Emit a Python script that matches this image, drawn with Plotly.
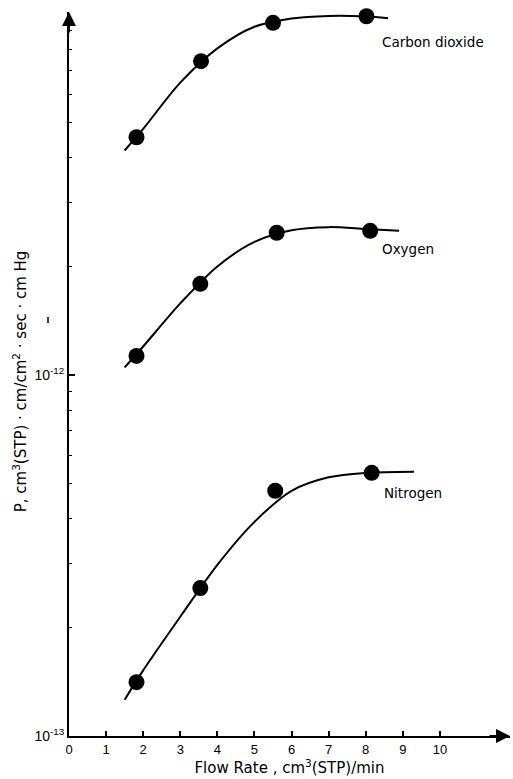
import numpy as np
import plotly.graph_objects as go

# Measured permeabilities P, cm3(STP)·cm/cm2·sec·cm Hg, against flow rate
flow_co2 = [1.82, 3.56, 5.50, 8.02]
perm_co2 = [4.56e-12, 7.41e-12, 9.46e-12, 9.87e-12]
flow_o2 = [1.82, 3.54, 5.60, 8.12]
perm_o2 = [1.13e-12, 1.79e-12, 2.48e-12, 2.51e-12]
flow_n2 = [1.82, 3.54, 5.56, 8.16]
perm_n2 = [1.41e-13, 2.57e-13, 4.78e-13, 5.36e-13]

# Smooth curves drawn through each gas's data
curve_co2_x = [1.5, 2, 3, 4, 5, 6, 7, 8, 8.6]
curve_co2_y = [4.19e-12, 4.81e-12, 6.46e-12, 8.04e-12, 9.23e-12, 9.73e-12, 9.89e-12, 9.86e-12, 9.75e-12]
curve_o2_x = [1.5, 2, 3, 4, 5, 6, 7, 8, 8.9]
curve_o2_y = [1.05e-12, 1.20e-12, 1.58e-12, 2.00e-12, 2.34e-12, 2.52e-12, 2.57e-12, 2.54e-12, 2.51e-12]
curve_n2_x = [1.5, 2, 3, 4, 5, 6, 7, 8, 9.3]
curve_n2_y = [1.26e-13, 1.52e-13, 2.14e-13, 2.98e-13, 3.92e-13, 4.78e-13, 5.21e-13, 5.36e-13, 5.40e-13]

x_ticks = list(range(0, 11))
y_major = [1e-13, 1e-12]
y_major_text = ["10<sup>-13</sup>", "10<sup>-12</sup>"]
y_minor = [m * d for d in (1e-13, 1e-12) for m in range(2, 10)]

labels = [("Carbon dioxide", 8.38, 8.35e-12),
          ("Oxygen", 8.38, 2.23e-12),
          ("Nitrogen", 8.44, 4.71e-13)]

FONT = "Liberation Sans"
TITLE_FONT = "DejaVu Sans"
fig = go.Figure()

for cx, cy in [(curve_co2_x, curve_co2_y), (curve_o2_x, curve_o2_y), (curve_n2_x, curve_n2_y)]:
    fig.add_trace(go.Scatter(x=cx, y=cy, mode="lines",
                             line=dict(color="black", width=2, shape="spline", smoothing=0.9),
                             hoverinfo="skip", showlegend=False))

for fx, py in [(flow_co2, perm_co2), (flow_o2, perm_o2), (flow_n2, perm_n2)]:
    fig.add_trace(go.Scatter(x=fx, y=py, mode="markers", marker=dict(color="black", size=16),
                             showlegend=False, cliponaxis=False))

for text, lx, ly in labels:
    fig.add_annotation(x=lx, y=np.log10(ly), xref="x", yref="y", text=text, showarrow=False,
                       xanchor="left", yanchor="middle",
                       font=dict(family=TITLE_FONT, size=13.5, color="black"))

# Axis arrows
fig.add_annotation(x=0, y=1, xref="paper", yref="paper", ax=0, ay=22,
                   text="", showarrow=True, arrowhead=2, arrowsize=1.4, arrowwidth=2, arrowcolor="black")
fig.add_annotation(x=1, y=0, xref="paper", yref="paper", ax=-22, ay=0,
                   text="", showarrow=True, arrowhead=2, arrowsize=1.4, arrowwidth=2, arrowcolor="black")

# Vertical axis title
fig.add_annotation(x=-0.111, y=0.49, xref="paper", yref="paper", textangle=-90, showarrow=False,
                   xanchor="center", yanchor="middle",
                   text="P, cm<sup>3</sup>(STP) · cm/cm<sup>2</sup> · sec · cm Hg",
                   font=dict(family=TITLE_FONT, size=15, color="black"))

# small dash left of the vertical axis
fig.add_shape(type="line", xref="paper", yref="paper", x0=-0.0476, x1=-0.0476, y0=0.5704, y1=0.5787,
              line=dict(color="black", width=1.5))

fig.update_layout(
    width=513, height=779,
    margin=dict(l=69, r=3, t=12, b=43),
    plot_bgcolor="white", paper_bgcolor="white",
    font=dict(family=FONT, size=13, color="black"),
    xaxis=dict(range=[0, 11.89], showline=True, linecolor="black", linewidth=2, showgrid=False, zeroline=False,
               tickmode="array", tickvals=x_ticks, ticktext=[str(v) for v in x_ticks],
               ticks="inside", ticklen=5, tickwidth=1.5, tickcolor="black",
               title=dict(text="Flow Rate , cm<sup>3</sup>(STP)/min", standoff=3,
                          font=dict(family=TITLE_FONT, size=15))),
    yaxis=dict(type="log", range=[-13, -10.994], showline=True, linecolor="black", linewidth=2,
               showgrid=False, zeroline=False,
               tickmode="array", tickvals=y_major, ticktext=y_major_text,
               tickfont=dict(family=FONT, size=14),
               ticks="inside", ticklen=6, tickwidth=1.5, tickcolor="black",
               minor=dict(tickmode="array", tickvals=y_minor, ticks="inside", ticklen=3,
                          tickwidth=1.2, tickcolor="black", showgrid=False)),
)

fig.write_html("out.html")
